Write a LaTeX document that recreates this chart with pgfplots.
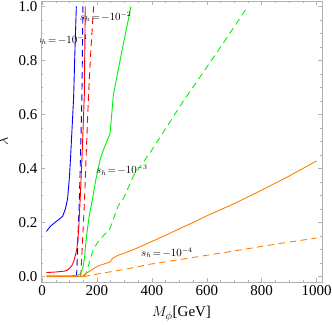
\documentclass[border=0pt]{standalone}
\usepackage{fontspec}
\setmainfont{Liberation Serif}
\usepackage{pgfplots}
\pgfplotsset{compat=1.18}
\usetikzlibrary{calc}
\definecolor{mblue}{rgb}{0,0,1}
\definecolor{mred}{rgb}{1,0,0}
\definecolor{mgreen}{rgb}{0,0.95,0}
\definecolor{morange}{rgb}{1,0.5,0}
\begin{document}
\begin{tikzpicture}
\begin{axis}[
  scale only axis, width=281pt, height=281pt,
  xmin=-3.7, xmax=1019.7, ymin=-0.02, ymax=1.02,
  xtick={0,200,400,600,800,1000},
  ytick={0,0.2,0.4,0.6,0.8,1.0},
  minor x tick num=3, minor y tick num=3,
  tick align=inside, major tick length=4pt, minor tick length=2.2pt,
  axis line style={gray!60}, tick style={gray!60, line width=0.4pt},
  /pgf/number format/assume math mode=true,
  xticklabel style={/pgf/number format/.cd, set thousands separator={}},
  yticklabel style={/pgf/number format/.cd, fixed, fixed zerofill, precision=1},
  ticklabel style={font=\fontsize{15}{16}\selectfont},
  xlabel={$M_\phi$[GeV]}, ylabel={$\lambda$},
  label style={font=\fontsize{15}{16}\selectfont},
  xlabel shift=4pt, ylabel shift=4pt,
  every axis plot/.append style={line width=0.9pt, no markers},
]
% s_h = -10^-1
\addplot[mblue] coordinates {(16,0.167) (30,0.186) (48,0.201) (62,0.212) (75,0.223) (85,0.25) (93,0.287) (100,0.37) (105,0.46) (110,0.56) (115,0.66) (120,0.84) (125,1.0)};
\addplot[mblue, dash pattern=on 6.5pt off 4.5pt] coordinates {(125,0) (127,0.023) (131,0.15) (136,0.287) (141,0.48) (145.5,0.674) (149,1.0)};
% s_h = -10^-2
\addplot[mred] coordinates {(16,0.015) (50,0.017) (80,0.02) (91,0.023) (100,0.03) (108,0.04) (115,0.054) (122,0.08) (127,0.103) (133,0.165) (139,0.287) (146,0.45) (154,0.67) (157.5,1.0)};
\addplot[mred, dash pattern=on 6.5pt off 4.5pt] coordinates {(141,0) (145,0.08) (150,0.18) (155,0.287) (162,0.48) (169.5,0.674) (178,0.84) (188,1.0)};
% s_h = -10^-3
\addplot[mgreen] coordinates {(16,0.003) (100,0.003) (130,0.004) (140,0.01) (145,0.023) (150,0.04) (155,0.07) (157.5,0.103) (164,0.165) (172,0.226) (184,0.287) (194,0.349) (212,0.435) (224,0.47) (236,0.5) (248,0.53) (260,0.674) (267,0.71) (290,0.83) (324,1.0)};
\addplot[mgreen, dash pattern=on 6.5pt off 4.5pt] coordinates {(150,0) (157,0.005) (164,0.023) (176,0.066) (188,0.103) (205,0.13) (224,0.152) (248,0.178) (255,0.2) (278,0.263) (297,0.29) (333,0.373) (394,0.459) (515,0.65) (636,0.828) (750,1.0)};
% s_h = -10^-4
\addplot[morange] coordinates {(16,0) (145,0) (150,0.004) (160,0.011) (169,0.017) (185,0.028) (206,0.04) (230,0.048) (248,0.054) (254,0.064) (260,0.07) (280,0.08) (303,0.088) (345,0.105) (400,0.13) (450,0.153) (500,0.177) (550,0.2) (600,0.225) (700,0.27) (800,0.32) (900,0.372) (1000,0.428)};
\addplot[morange, dash pattern=on 6.5pt off 4.5pt] coordinates {(151,0) (200,0.009) (250,0.018) (303,0.027) (394,0.046) (539,0.069) (700,0.095) (850,0.12) (1000,0.143)};
\node[font=\fontsize{10.5}{11}\selectfont, inner sep=0pt] at (axis cs:74,0.877) {$s_h\!=\!-10^{-1}$};
\node[font=\fontsize{10.5}{11}\selectfont, inner sep=0pt] at (axis cs:232,0.962) {$s_h\!=\!-10^{-2}$};
\node[font=\fontsize{10.5}{11}\selectfont, inner sep=0pt] at (axis cs:291,0.394) {$s_h\!=\!-10^{-3}$};
\node[font=\fontsize{10.5}{11}\selectfont, inner sep=0pt] at (axis cs:455,0.088) {$s_h\!=\!-10^{-4}$};
\end{axis}
\pgfresetboundingbox
\path ($(current axis.south west)+(-41pt,-42pt)$) rectangle ($(current axis.north east)+(10pt,1pt)$);
\end{tikzpicture}
\end{document}
